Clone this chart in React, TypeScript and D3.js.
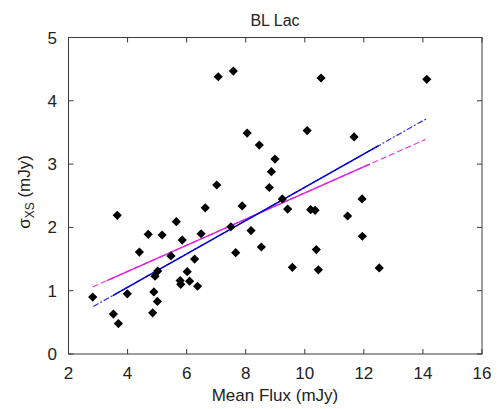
import React from "react";
import * as d3 from "d3";

const fluxX = [7.07, 7.58, 8.05, 8.46, 8.99, 8.87, 7.02, 8.80, 10.55, 14.13, 10.08, 11.67, 3.65, 6.63, 7.88, 5.65, 4.70, 5.17, 6.49, 5.85, 7.50, 8.18, 8.53, 7.66, 4.40, 5.47, 6.27, 5.02, 4.93, 6.02, 5.78, 5.80, 6.10, 6.37, 2.82, 3.99, 4.89, 5.01, 4.85, 3.52, 3.69, 9.24, 9.42, 10.20, 10.35, 11.94, 11.45, 11.95, 10.39, 9.58, 10.46, 12.52];
const sigmaY = [4.38, 4.47, 3.49, 3.30, 3.08, 2.88, 2.67, 2.63, 4.36, 4.34, 3.53, 3.43, 2.19, 2.31, 2.34, 2.09, 1.89, 1.88, 1.90, 1.80, 2.01, 1.95, 1.69, 1.60, 1.61, 1.55, 1.50, 1.31, 1.23, 1.30, 1.16, 1.10, 1.15, 1.07, 0.90, 0.95, 0.98, 0.83, 0.65, 0.63, 0.48, 2.45, 2.29, 2.28, 2.27, 2.45, 2.18, 1.86, 1.65, 1.37, 1.33, 1.36];

// fit lines: [x0, y0, x1, y1]
const blueFit = [2.84, 0.75, 14.13, 3.72];
const magentaFit = [2.82, 1.06, 14.09, 3.39];

const xTicks = [2, 4, 6, 8, 10, 12, 14, 16];
const yTicks = [0, 1, 2, 3, 4, 5];

const W = 497, H = 409;
const L = 68.5, R = 482, T = 37.5, B = 354;

export default function App() {
  const x = d3.scaleLinear().domain([2, 16]).range([L, R]);
  const y = d3.scaleLinear().domain([0, 5]).range([B, T]);
  const font = "'Liberation Sans', Arial, Helvetica, sans-serif";
  const lineFn = (f: number[], xa: number, xb: number) => {
    const slope = (f[3] - f[1]) / (f[2] - f[0]);
    const g = (v: number) => f[1] + slope * (v - f[0]);
    return d3.line()([[x(xa), y(g(xa))], [x(xb), y(g(xb))]]) as string;
  };
  const s = 4.6;
  const diamond = d3.line()([[0, -s], [s, 0], [0, s], [-s, 0]]) + "Z";
  const axisColor = "#3a3a3a";
  return (
    <svg width={W} height={H} style={{ position: "absolute", left: 0, top: 0, background: "#fff" }} fontFamily={font}>
      <rect x={0} y={0} width={W} height={H} fill="#fff" />
      {/* fit lines */}
      <path d={lineFn(magentaFit, magentaFit[0], magentaFit[2])} stroke="#e040e0" strokeWidth={1.2} strokeDasharray="6,3" fill="none" />
      <path d={lineFn(magentaFit, 3.3, 12.2)} stroke="#e020e0" strokeWidth={1.5} fill="none" />
      <path d={lineFn(blueFit, blueFit[0], blueFit[2])} stroke="#3030e0" strokeWidth={1.2} strokeDasharray="6,2,2,2" fill="none" />
      <path d={lineFn(blueFit, 3.5, 12.5)} stroke="#0000d0" strokeWidth={1.5} fill="none" />
      {/* points */}
      {fluxX.map((v, i) => (
        <path key={i} d={diamond} transform={`translate(${x(v)},${y(sigmaY[i])})`} fill="#000" />
      ))}
      {/* box */}
      <rect x={L} y={T} width={R - L} height={B - T} fill="none" stroke={axisColor} strokeWidth={1} />
      {xTicks.map((t) => (
        <g key={"x" + t}>
          <line x1={x(t)} x2={x(t)} y1={B} y2={B - 5} stroke={axisColor} />
          <line x1={x(t)} x2={x(t)} y1={T} y2={T + 5} stroke={axisColor} />
          <text x={x(t)} y={379} textAnchor="middle" fontSize={17} fill="#222">{t}</text>
        </g>
      ))}
      {yTicks.map((t) => (
        <g key={"y" + t}>
          <line x1={L} x2={L + 5} y1={y(t)} y2={y(t)} stroke={axisColor} />
          <line x1={R} x2={R - 5} y1={y(t)} y2={y(t)} stroke={axisColor} />
          <text x={57} y={y(t) + 6} textAnchor="end" fontSize={17} fill="#222">{t}</text>
        </g>
      ))}
      <text x={275} y={26} textAnchor="middle" fontSize={16} fill="#222">BL Lac</text>
      <text x={275} y={401} textAnchor="middle" fontSize={17} fill="#222">Mean Flux (mJy)</text>
      <text transform="translate(30,192) rotate(-90)" textAnchor="middle" fontSize={17} fill="#222">
        σ<tspan fontSize={12} dy={4}>XS</tspan><tspan dy={-4}> (mJy)</tspan>
      </text>
    </svg>
  );
}
